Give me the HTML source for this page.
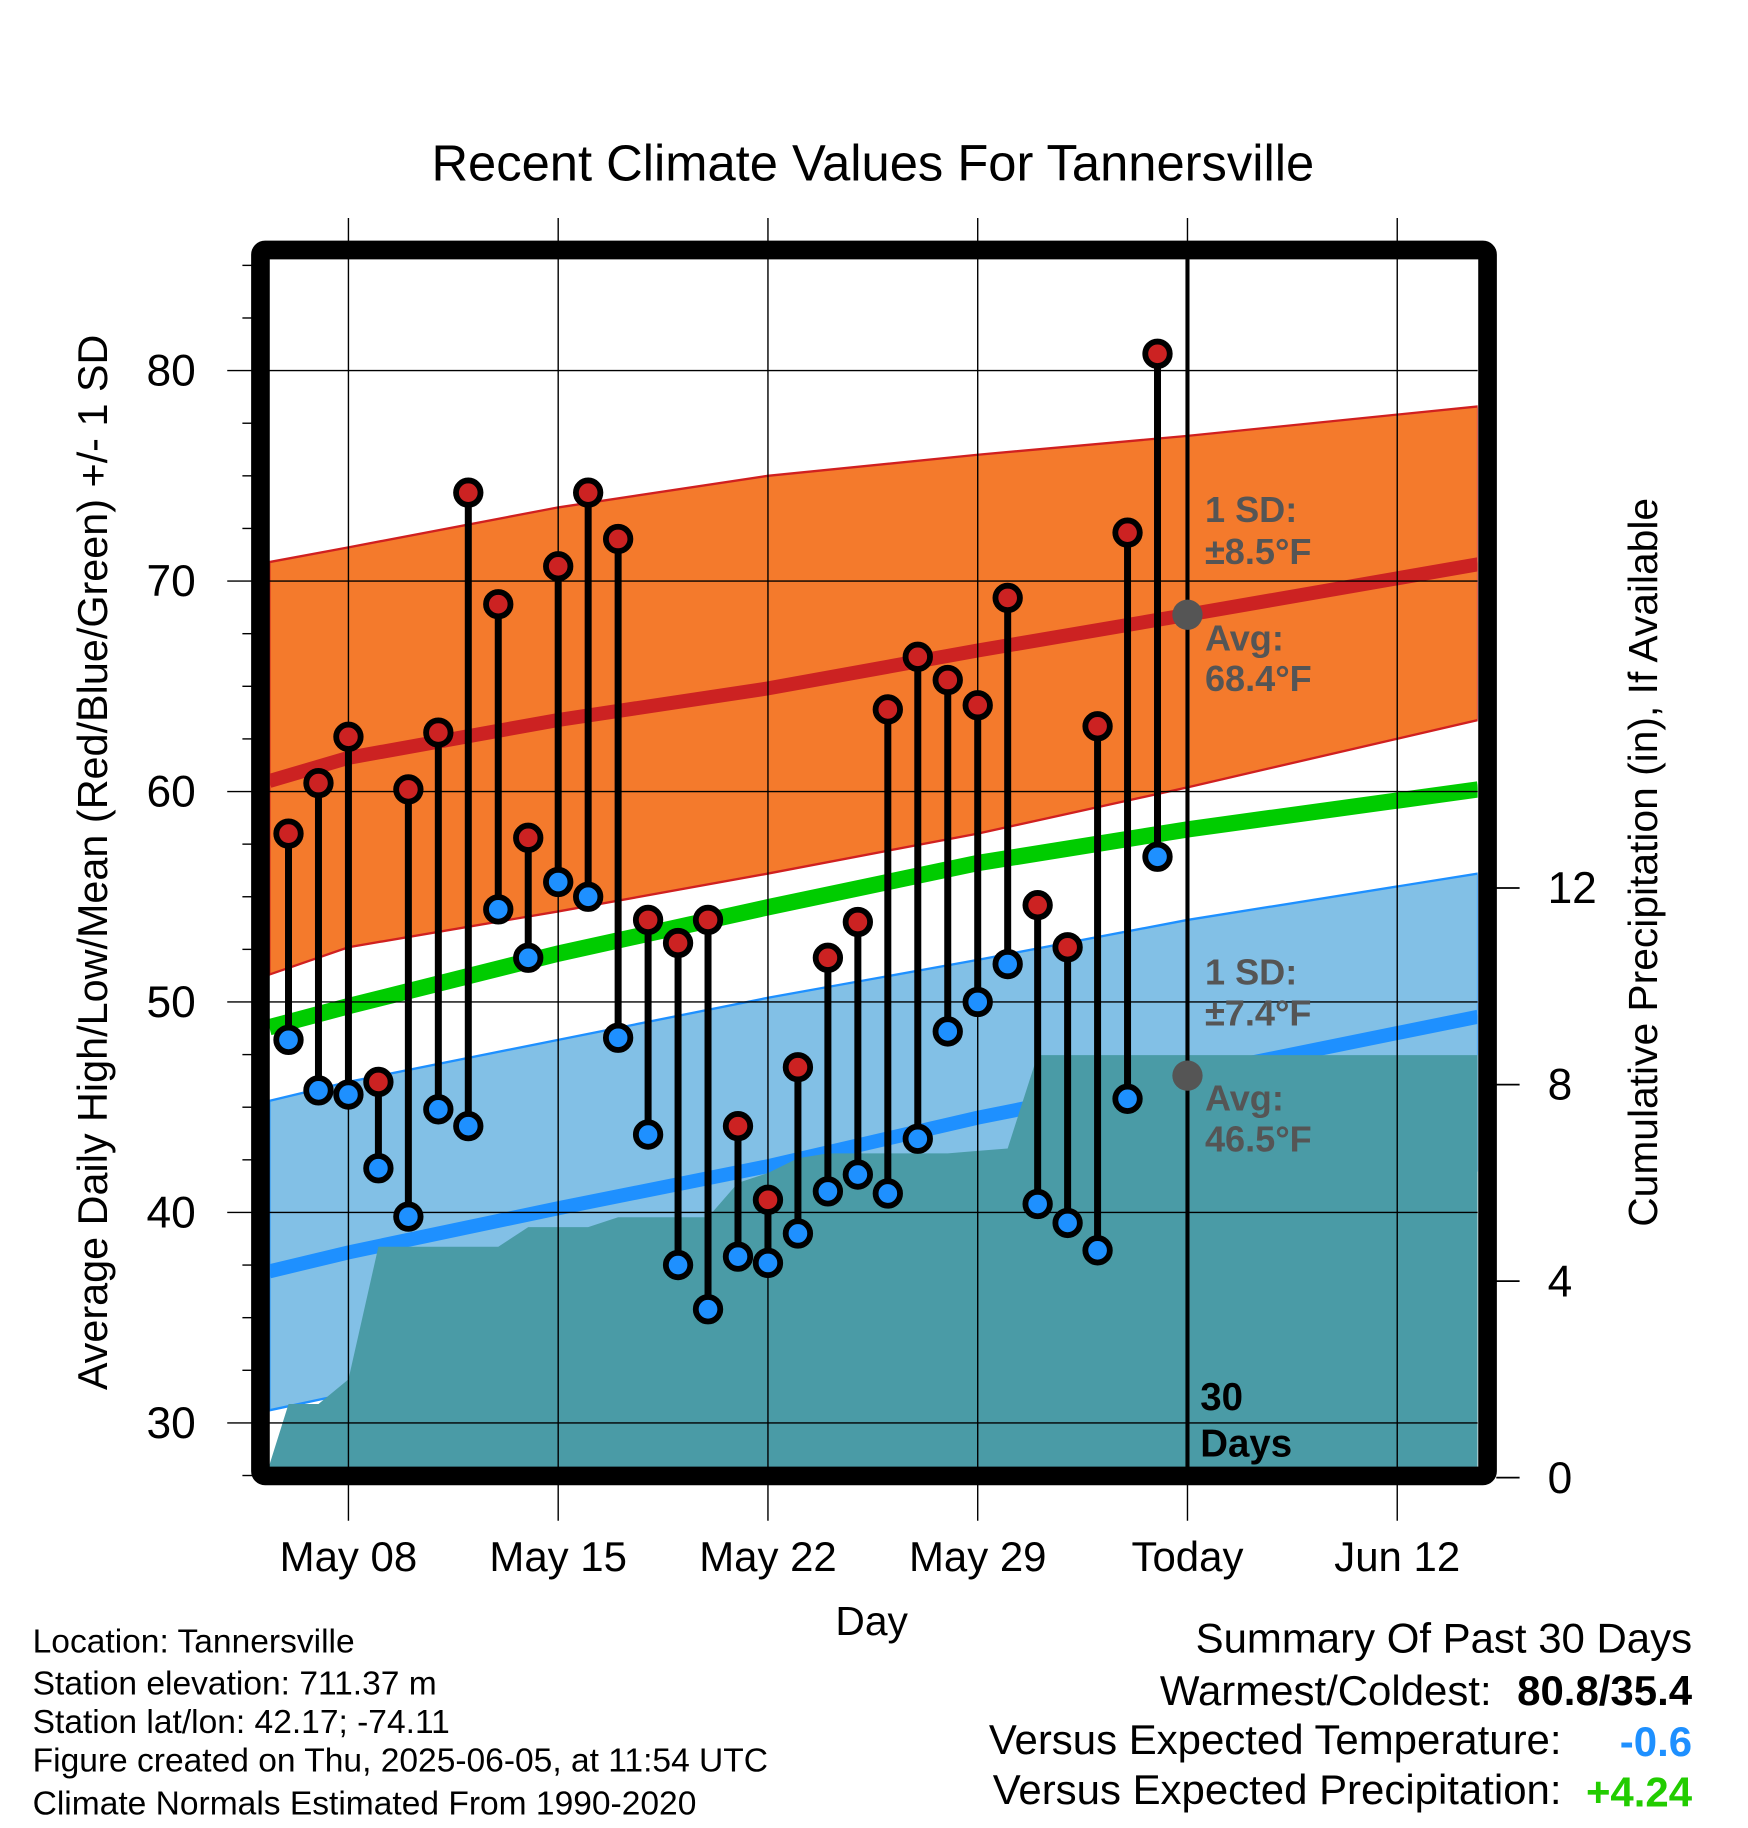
<!DOCTYPE html>
<html><head><meta charset="utf-8"><style>
html,body{margin:0;padding:0;background:#fff}
svg{display:block;font-family:"Liberation Sans",sans-serif}
</style></head><body>
<svg id="chart" width="1748" height="1828" viewBox="0 0 1500 1568.6" xmlns="http://www.w3.org/2000/svg">
<rect width="1500" height="1568.6" fill="#fff"/>
<g id="bands"></g>
<g id="precip"></g>
<g id="grid"></g>
<g id="marks"></g>
<g id="axes"></g>
<text x="749" y="155" font-size="43.5" text-anchor="middle">Recent Climate Values For Tannersville</text>
<text transform="translate(92,740) rotate(-90)" font-size="35.5" text-anchor="middle">Average Daily High/Low/Mean (Red/Blue/Green) +/- 1 SD</text>
<text transform="translate(1422,740) rotate(-90)" font-size="35" text-anchor="middle">Cumulative Precipitation (in), If Available</text>
<text x="748" y="1403" font-size="35" text-anchor="middle">Day</text>
<g font-size="31" font-weight="bold" fill="#555">
<text x="1034" y="448">1 SD:</text><text x="1034" y="484">±8.5°F</text>
<text x="1034" y="558">Avg:</text><text x="1034" y="593">68.4°F</text>
<text x="1034" y="845">1 SD:</text><text x="1034" y="880">±7.4°F</text>
<text x="1034" y="953">Avg:</text><text x="1034" y="988">46.5°F</text>
</g>
<g font-size="33" font-weight="bold" fill="#000">
<text x="1030" y="1210">30</text><text x="1030" y="1250">Days</text>
</g>
<g font-size="28.8" fill="#000">
<text x="28" y="1418">Location: Tannersville</text>
<text x="28" y="1454">Station elevation: 711.37 m</text>
<text x="28" y="1487">Station lat/lon: 42.17; -74.11</text>
<text x="28" y="1520">Figure created on Thu, 2025-06-05, at 11:54 UTC</text>
<text x="28" y="1557">Climate Normals Estimated From 1990-2020</text>
</g>
<g font-size="36" text-anchor="end">
<text x="1452" y="1418">Summary Of Past 30 Days</text>
<text x="1280" y="1463">Warmest/Coldest:</text>
<text x="1452" y="1463" font-weight="bold">80.8/35.4</text>
<text x="1340" y="1505">Versus Expected Temperature:</text>
<text x="1452" y="1507" font-weight="bold" fill="#1e90ff">-0.6</text>
<text x="1340" y="1548">Versus Expected Precipitation:</text>
<text x="1452" y="1550" font-weight="bold" fill="#22cc00">+4.24</text>
</g>
</svg>
<script>
// day index: 0 = May 08
const days = [-2,-1,0,1,2,3,4,5,6,7,8,9,10,11,12,13,14,15,16,17,18,19,20,21,22,23,24,25,26,27];
const highs = [58.0,60.4,62.6,46.2,60.1,62.8,74.2,68.9,57.8,70.7,74.2,72.0,53.9,52.8,53.9,44.1,40.6,46.9,52.1,53.8,63.9,66.4,65.3,64.1,69.2,54.6,52.6,63.1,72.3,80.8];
const lows = [48.2,45.8,45.6,42.1,39.8,44.9,44.1,54.4,52.1,55.7,55.0,48.3,43.7,37.5,35.4,37.9,37.6,39.0,41.0,41.8,40.9,43.5,48.6,50.0,51.8,40.4,39.5,38.2,45.4,56.9];
const precip = [1.5,1.5,2.0,4.7,4.7,4.7,4.7,4.7,5.1,5.1,5.1,5.3,5.3,5.3,5.3,6.0,6.2,6.5,6.6,6.6,6.6,6.6,6.6,6.65,6.7,8.6,8.6,8.6,8.6,8.6];
const normDays = [-2.64,0,7,14,21,28,37.7];
const hiUpper = [70.9,71.6,73.5,75.0,76.0,76.9,78.3];
const hiMean = [60.5,61.6,63.4,64.9,66.7,68.4,70.8];
const hiLower = [51.3,52.6,54.3,56.1,58.0,60.2,63.4];
const meanLine = [48.8,49.8,52.3,54.5,56.6,58.2,60.1];
const loUpper = [45.3,46.2,48.2,50.2,52.0,53.9,56.1];
const loMean = [37.2,38.1,40.2,42.2,44.5,46.5,49.3];
const loLower = [30.6,31.4,33.3,35.5,37.5,39.5,42.0];
const xTicks = [0,7,14,21,28,35];
const xLabels = ["May 08","May 15","May 22","May 29","Today","Jun 12"];
const yTicks = [30,40,50,60,70,80];
const y2Ticks = [0,4,8,12];

const X = d => 299 + d*180/7;
const Y = t => 318 + (80 - t)*(1221-318)/50;
const Y2 = p => 1268 - p*(1268-762)/12;
const L = 231, R = 1268, T = 222, B = 1259;
const NS = "http://www.w3.org/2000/svg";
function mk(tag, attrs, parent){const e=document.createElementNS(NS,tag);for(const k in attrs)e.setAttribute(k,attrs[k]);parent.appendChild(e);return e;}
const bands=document.getElementById('bands'), pr=document.getElementById('precip'), grid=document.getElementById('grid'), marks=document.getElementById('marks'), axes=document.getElementById('axes');
const pts = arr => normDays.map((d,i)=>X(d).toFixed(1)+','+Y(arr[i]).toFixed(1));
const defs=mk('defs',{},document.getElementById('chart'));
const cp=mk('clipPath',{id:'pc'},defs); mk('rect',{x:L,y:T,width:R-L,height:B-T},cp);
bands.setAttribute('clip-path','url(#pc)'); pr.setAttribute('clip-path','url(#pc)');
let e;
e=mk('polygon',{points:pts(hiUpper).concat(pts(hiLower).reverse()).join(' '),fill:'#f47a2c',stroke:'#d02020','stroke-width':2},bands);


e=mk('polygon',{points:pts(loUpper).concat(pts(loLower).reverse()).join(' '),fill:'#82c0e6',stroke:'#1e90ff','stroke-width':2},bands);


e=mk('polyline',{points:pts(hiMean).join(' '),fill:'none',stroke:'#cc2222','stroke-width':12},bands);


e=mk('polyline',{points:pts(loMean).join(' '),fill:'none',stroke:'#1e90ff','stroke-width':12},bands);


e=mk('polyline',{points:pts(meanLine).join(' '),fill:'none',stroke:'#00cc00','stroke-width':14},bands);


let pp=[L+','+B, X(days[0]-0.66)+','+B];
days.forEach((d,i)=>pp.push(X(d).toFixed(1)+','+Y2(precip[i]).toFixed(1)));
pp.push(R+','+Y2(precip[precip.length-1]).toFixed(1)); pp.push(R+','+B);
e=mk('polygon',{points:pp.join(' '),fill:'#4a9ba6'},pr);


xTicks.forEach(d=>{mk('line',{x1:X(d),x2:X(d),y1:187,y2:1305,stroke:'#000','stroke-width':1.2},grid);});
yTicks.forEach(t=>{mk('line',{x1:195,x2:R,y1:Y(t),y2:Y(t),stroke:'#000','stroke-width':1.2},grid);});
[27.5,32.5,35,37.5,42.5,45,47.5,52.5,55,57.5,62.5,65,67.5,72.5,75,77.5,82.5,85].forEach(t=>{if(Y(t)>210&&Y(t)<1270)mk('line',{x1:208,x2:218,y1:Y(t),y2:Y(t),stroke:'#000','stroke-width':1.2},grid);});
e=mk('line',{x1:X(28),x2:X(28),y1:T,y2:B,stroke:'#000','stroke-width':3.5},grid);


e=mk('circle',{cx:X(28),cy:Y(68.4),r:13,fill:'#555'},grid);


e=mk('circle',{cx:X(28),cy:Y(46.5),r:13,fill:'#555'},grid);


days.forEach((d,i)=>{
  const x=X(d);
  const s=mk('line',{x1:x,x2:x,y1:Y(highs[i]),y2:Y(lows[i]),stroke:'#000','stroke-width':6},marks);
  
  
  const h=mk('circle',{cx:x,cy:Y(highs[i]),r:10.5,fill:'#cc2222',stroke:'#000','stroke-width':5},marks);
  
  
  const l=mk('circle',{cx:x,cy:Y(lows[i]),r:10.5,fill:'#1e90ff',stroke:'#000','stroke-width':5},marks);
  
  
});
e=mk('rect',{x:223.5,y:214.5,width:1053,height:1052,fill:'none',stroke:'#000','stroke-width':16,rx:4},axes);


yTicks.forEach(t=>{const tx=mk('text',{x:168,y:Y(t)+13,'font-size':38,'text-anchor':'end'},axes);tx.textContent=t;

});
y2Ticks.forEach(p=>{mk('line',{x1:1284,x2:1304,y1:Y2(p),y2:Y2(p),stroke:'#000','stroke-width':1.5},axes);
const tx=mk('text',{x:1328,y:Y2(p)+13,'font-size':38},axes);tx.textContent=p;

});
xTicks.forEach((d,i)=>{const tx=mk('text',{x:X(d),y:1348,'font-size':36,'text-anchor':'middle'},axes);tx.textContent=xLabels[i];

});
</script>
</body></html>
